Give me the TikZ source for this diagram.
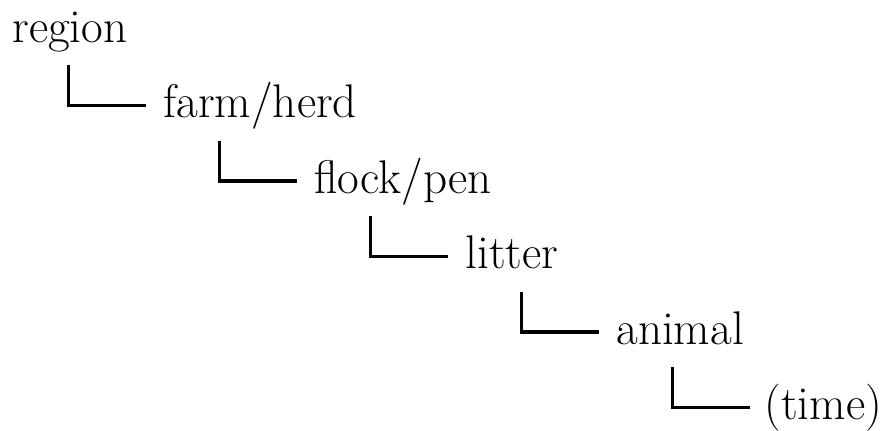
\documentclass[tikz,border=0pt]{standalone}
\begin{document}
\begin{tikzpicture}[
    level/.style={anchor=base west, inner sep=0pt, font=\fontsize{23.6pt}{28pt}\selectfont},
    branch/.style={line width=1.7pt}
  ]
                \useasboundingbox (0,0) rectangle (441.5pt,-215pt);

                \node[level] (region) at (6pt,-21pt) {region};
                \node[level] (farm) at (81.5pt,-58.75pt) {farm/herd};
                \node[level] (flock) at (157pt,-96.5pt) {flock/pen};
                \node[level] (litter) at (232.5pt,-134.25pt) {litter};
                \node[level] (animal) at (308pt,-172pt) {animal};
                \node[level] (time) at (382pt,-209.75pt) {(time)};

                \draw[branch] ([xshift=28.25pt,yshift=-11.5pt]region.base west) |- ([xshift=-8.5pt,yshift=6pt]farm.base west);
                \draw[branch] ([xshift=28.25pt,yshift=-11.5pt]farm.base west) |- ([xshift=-8.5pt,yshift=6pt]flock.base west);
                \draw[branch] ([xshift=28.25pt,yshift=-11.5pt]flock.base west) |- ([xshift=-8.5pt,yshift=6pt]litter.base west);
                \draw[branch] ([xshift=28.25pt,yshift=-11.5pt]litter.base west) |- ([xshift=-8.5pt,yshift=6pt]animal.base west);
                \draw[branch] ([xshift=28.25pt,yshift=-11.5pt]animal.base west) |- ([xshift=-7pt,yshift=6pt]time.base west);
            \end{tikzpicture}
\end{document}
